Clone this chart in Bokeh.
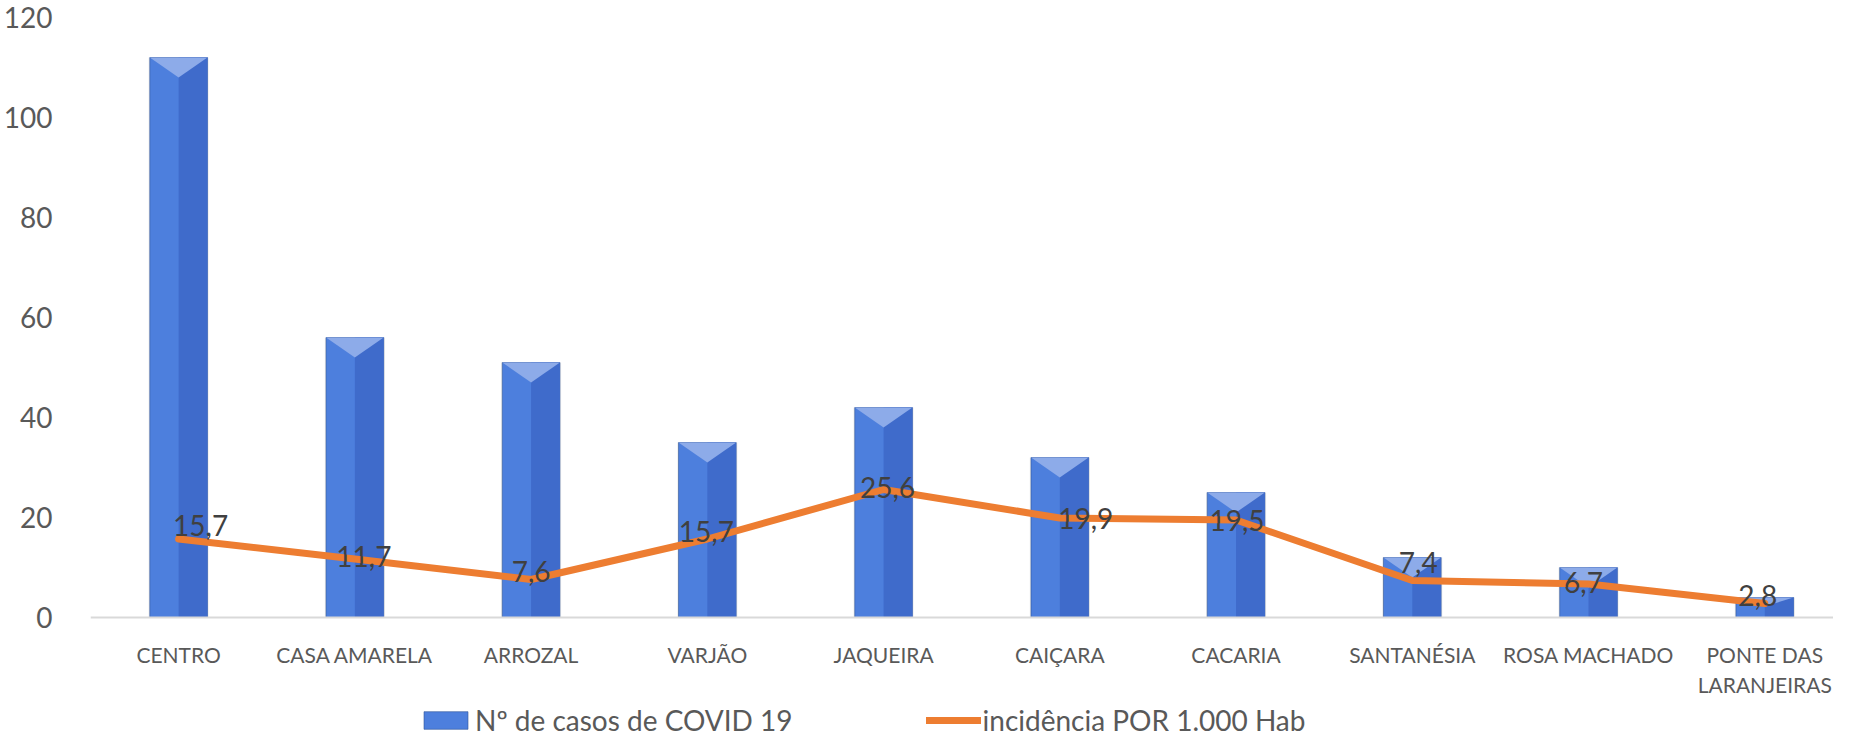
from bokeh.plotting import figure
from bokeh.models import ColumnDataSource, Range1d, FixedTicker, Legend, LegendItem
from bokeh.core.properties import value
from bokeh.embed import file_html
from bokeh.resources import INLINE

categories = ["CENTRO", "CASA AMARELA", "ARROZAL", "VARJÃO", "JAQUEIRA", "CAIÇARA",
              "CACARIA", "SANTANÉSIA", "ROSA MACHADO", "PONTE DAS\nLARANJEIRAS"]
casos = [112, 56, 51, 35, 42, 32, 25, 12, 10, 4]
incidencia = [15.7, 11.7, 7.6, 15.7, 25.6, 19.9, 19.5, 7.4, 6.7, 2.8]
y_ticks = [0, 20, 40, 60, 80, 100, 120]

# data-label placement (screen pixels), as placed in the original chart
label_dx = [22, 9, 0, -1, 4, 26, 1, 6, -5, -7]
label_dy = [14, 3, 8, 8, 2, 0, 0, 18, 2, 8]

FONT = "Lato"
BW = 0.327

xs = list(range(len(categories)))
inc_labels = [f"{v:.1f}".replace(".", ",") for v in incidencia]

src = ColumnDataSource(dict(x=xs, casos=casos, inc=incidencia, lab=inc_labels,
                            xr=[x + BW / 4 for x in xs],
                            dx=label_dx, dy=[-d for d in label_dy]))

tri_xs = [[x - BW / 2, x + BW / 2, x] for x in xs]
tri_ys = [[c, c, c - min(4, c * 0.45)] for c in casos]
tri_src = ColumnDataSource(dict(xs=tri_xs, ys=tri_ys))

p = figure(width=1833, height=737, output_backend="svg", toolbar_location=None,
           x_range=Range1d(-0.5, 9.39), y_range=Range1d(-24, 120),
           min_border_left=79, min_border_right=0, min_border_top=17, min_border_bottom=0)
p.background_fill_color = "white"
p.border_fill_color = "white"
p.outline_line_color = None
p.xgrid.visible = False
p.ygrid.visible = False

# soft shadow
p.vbar(x="x", top="casos", width=BW + 0.014, bottom=0, source=src,
       fill_color="#000000", fill_alpha=0.08, line_color=None)
bar_r = p.vbar(x="x", top="casos", width=BW, bottom=0, source=src,
               fill_color="#4D7FDD", line_color="#2F5597", line_alpha=0.6, line_width=1)
p.vbar(x="xr", top="casos", width=BW / 2, bottom=0, source=src,
       fill_color="#3F6BCB", line_color=None)
p.patches(xs="xs", ys="ys", source=tri_src, fill_color="#8DABE9", line_color=None)

line_r = p.line(x="x", y="inc", source=src, line_color="#ED7D31", line_width=7,
                line_cap="round", line_join="round")
p.text(x="x", y="inc", text="lab", source=src, text_align="center",
       text_baseline="alphabetic", x_offset="dx", y_offset="dy", text_font=value(FONT),
       text_font_size="28px", text_color="#404040")

# axes
p.xaxis.fixed_location = 0
p.xaxis.ticker = FixedTicker(ticks=xs)
p.xaxis.major_label_overrides = {i: c for i, c in enumerate(categories)}
p.xaxis.axis_line_color = "#D9D9D9"
p.xaxis.axis_line_width = 2
p.xaxis.major_tick_line_color = None
p.xaxis.minor_tick_line_color = None
p.xaxis.major_label_text_font = FONT
p.xaxis.major_label_text_font_size = "21px"
p.xaxis.major_label_text_color = "#595959"
p.xaxis.major_label_standoff = 18

p.yaxis.ticker = FixedTicker(ticks=y_ticks)
p.yaxis.axis_line_color = None
p.yaxis.major_tick_line_color = None
p.yaxis.minor_tick_line_color = None
p.yaxis.major_label_text_font = FONT
p.yaxis.major_label_text_font_size = "28px"
p.yaxis.major_label_text_color = "#595959"
p.yaxis.major_label_standoff = 32

legend = Legend(items=[LegendItem(label="Nº de casos de COVID 19", renderers=[bar_r]),
                       LegendItem(label="incidência POR 1.000 Hab", renderers=[line_r])],
                location=(328, 0), orientation="horizontal", spacing=133,
                glyph_width=55, glyph_height=22, label_standoff=2, padding=0, margin=0,
                border_line_color=None, background_fill_alpha=0,
                label_text_font=FONT, label_text_font_size="28px",
                label_text_color="#595959")
p.add_layout(legend)

open("out.html", "w").write(file_html(p, INLINE))
